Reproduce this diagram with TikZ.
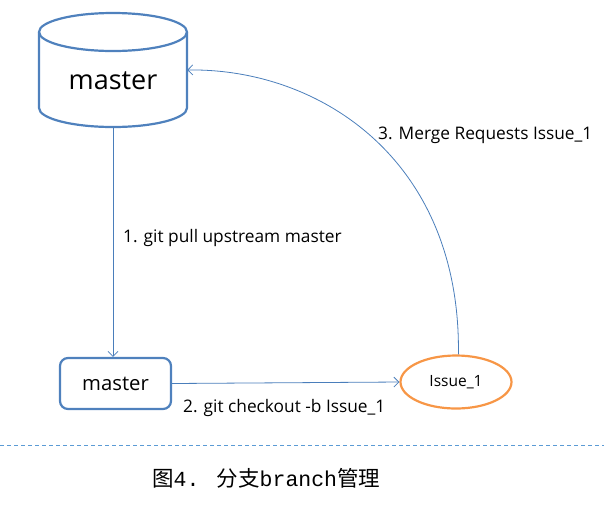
\documentclass[tikz,border=0pt]{standalone}
\usepackage{fontspec}
\setmainfont{Open Sans}
\newfontfamily\cjk{Noto Sans CJK SC}
\newfontfamily\capmono{Liberation Mono}
\usetikzlibrary{arrows.meta,shapes.geometric}
\definecolor{lineblue}{HTML}{4A7EBB}
\definecolor{boxblue}{HTML}{4F81BD}
\definecolor{issueorange}{HTML}{F79646}
\definecolor{dashblue}{HTML}{5B9BD5}
\begin{document}
\begin{tikzpicture}[x=1pt,y=-1pt,
  conn/.style={draw=lineblue, line width=0.8pt, -{Straight Barb[length=5pt,width=10pt]}},
  shapeline/.style={draw=boxblue, line width=2.2pt},
  mbox/.style={shapeline, rounded corners=8pt, minimum width=111pt, minimum height=51pt, inner sep=0pt, font=\fontsize{20.3}{24}\selectfont},
  issue/.style={ellipse, draw=issueorange, line width=2.2pt, minimum width=111pt, minimum height=53pt, inner sep=0pt, font=\fontsize{15.5}{18}\selectfont},
  lbl/.style={anchor=west, inner sep=0pt, font=\fontsize{17.3}{20}\selectfont},
  dashline/.style={draw=dashblue, line width=0.9pt, dash pattern=on 4pt off 3pt}
]
\useasboundingbox (0,0) rectangle (604,507);
% cylinder
\node[inner sep=0pt, minimum width=148pt, minimum height=114pt] (cyl) at (113,70) {};
\draw[shapeline] (39,32) -- (39,108) arc[start angle=180, end angle=360, x radius=74pt, y radius=19pt] -- (187,32);
\draw[shapeline] (113,32) ellipse[x radius=74pt, y radius=19pt];
\node[font=\fontsize{27}{32}\selectfont] (cyltext) at (113,81) {master};
% nodes
\node[mbox] (box) at (115.5,383.5) {master};
\node[issue] (iss) at (456,382) {Issue\_1};
% connectors
\draw[conn] (cyl.south) -- (cyl.south |- box.north);
\draw[conn] (box.east) -- (iss.west);
\draw[conn] (iss.85) .. controls (461,160) and (320,68) .. (cyl.east);
% labels
\node[lbl] (l1) at (123,238) {1. git pull upstream master};
\node[lbl] (l2) at (183,408) {2. git checkout -b Issue\_1};
\node[lbl] (l3) at (378,135) {3. Merge Requests Issue\_1};
% dashed separator
\coordinate (dl) at (0,445);
\coordinate (dr) at (604,445);
\draw[dashline] (dl) -- (dr);
% caption
\node[anchor=west, inner sep=0pt, font=\fontsize{21.5}{24}\selectfont] (cap) at (152,478) {\cjk 图{\capmono 4. }分支{\capmono branch}管理};
\end{tikzpicture}
\end{document}
